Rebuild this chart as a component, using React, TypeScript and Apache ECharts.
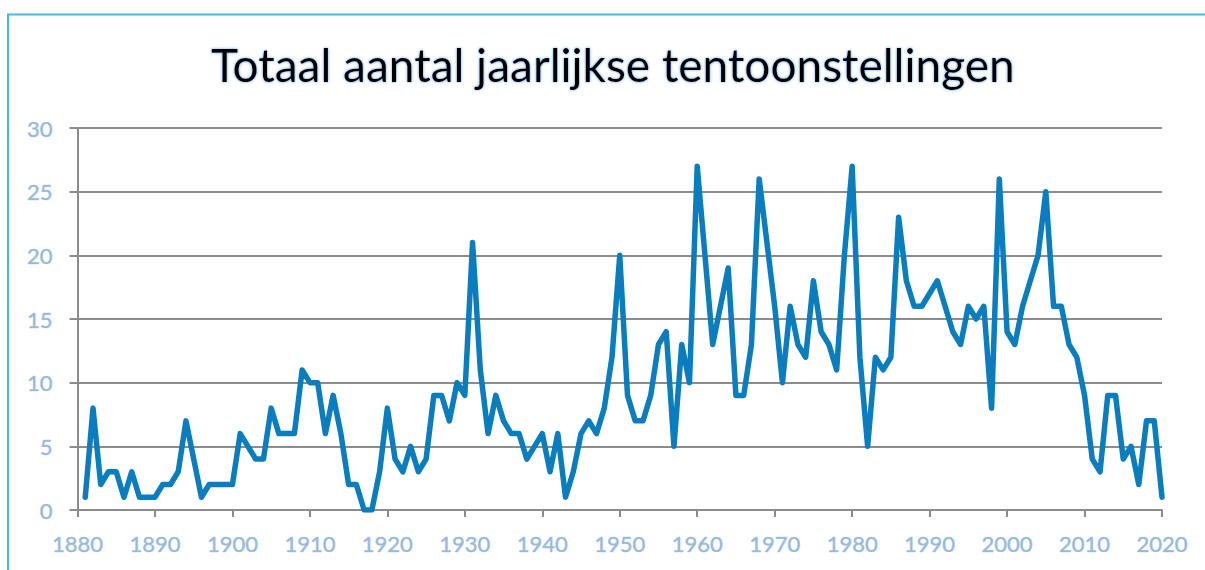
import React, { useEffect, useRef } from "react";
import * as echarts from "echarts";

const titleText = "Totaal aantal jaarlijkse tentoonstellingen";
const startYear = 1881;
const counts = [
  // 1881-1890
  1, 8, 2, 3, 3, 1, 3, 1, 1, 1,
  // 1891-1900
  2, 2, 3, 7, 4, 1, 2, 2, 2, 2,
  // 1901-1910
  6, 5, 4, 4, 8, 6, 6, 6, 11, 10,
  // 1911-1920
  10, 6, 9, 6, 2, 2, 0, 0, 3, 8,
  // 1921-1930
  4, 3, 5, 3, 4, 9, 9, 7, 10, 9,
  // 1931-1940
  21, 11, 6, 9, 7, 6, 6, 4, 5, 6,
  // 1941-1950
  3, 6, 1, 3, 6, 7, 6, 8, 12, 20,
  // 1951-1960
  9, 7, 7, 9, 13, 14, 5, 13, 10, 27,
  // 1961-1970
  20, 13, 16, 19, 9, 9, 13, 26, 21, 16,
  // 1971-1980
  10, 16, 13, 12, 18, 14, 13, 11, 20, 27,
  // 1981-1990
  12, 5, 12, 11, 12, 23, 18, 16, 16, 17,
  // 1991-2000
  18, 16, 14, 13, 16, 15, 16, 8, 26, 14,
  // 2001-2010
  13, 16, 18, 20, 25, 16, 16, 13, 12, 9,
  // 2011-2020
  4, 3, 9, 9, 4, 5, 2, 7, 7, 1,
];
const years = counts.map((_, i) => startYear + i);
const xMin = 1880;
const xMax = 2020;
const xStep = 10;
const yMin = 0;
const yMax = 30;
const yStep = 5;

export default function App() {
  const ref = useRef<HTMLDivElement>(null);
  useEffect(() => {
    if (!ref.current) return;
    const chart = echarts.init(ref.current, null, { renderer: "svg" });
    const labelStyle = {
      color: "#96badf",
      fontFamily: "Lato",
      fontSize: 22,
      textBorderColor: "rgba(110,150,195,0.55)",
      textBorderWidth: 0.6,
    };
    chart.setOption({
      animation: false,
      backgroundColor: "#ffffff",
      title: {
        text: titleText,
        left: 206,
        top: 36,
        textStyle: {
          color: "#000000",
          fontFamily: "Lato",
          fontWeight: "normal",
          fontSize: 46,
          textShadowColor: "rgba(80,150,215,0.85)",
          textShadowBlur: 3,
        },
      },
      graphic: [
        {
          type: "rect",
          shape: { x: 8, y: 14.5, width: 1400, height: 800 },
          style: { fill: "none", stroke: "#3fbde9", lineWidth: 2 },
          silent: true,
        },
      ],
      grid: { left: 77.5, right: 43, top: 128, bottom: 60 },
      xAxis: {
        type: "value",
        min: xMin,
        max: xMax,
        interval: xStep,
        splitLine: { show: false },
        axisLine: { show: true, lineStyle: { color: "#8c8c8c", width: 2 } },
        axisTick: { show: true, length: 7, lineStyle: { color: "#8c8c8c", width: 2 } },
        axisLabel: { ...labelStyle, margin: 22, formatter: (v: number) => String(v) },
      },
      yAxis: {
        type: "value",
        min: yMin,
        max: yMax,
        interval: yStep,
        splitLine: { show: true, lineStyle: { color: "#8c8c8c", width: 2 } },
        axisLine: { show: true, lineStyle: { color: "#8c8c8c", width: 2 } },
        axisTick: { show: true, length: 8, lineStyle: { color: "#8c8c8c", width: 2 } },
        axisLabel: { ...labelStyle, margin: 25 },
      },
      series: [
        {
          type: "line",
          data: years.map((y, i) => [y, counts[i]]),
          showSymbol: false,
          symbol: "none",
          lineStyle: { color: "#0a7dbf", width: 5.5, cap: "round", join: "round" },
        },
      ],
    });
    return () => chart.dispose();
  }, []);
  return (
    <div
      ref={ref}
      style={{ position: "fixed", left: 0, top: 0, width: 1205, height: 570 }}
    />
  );
}
